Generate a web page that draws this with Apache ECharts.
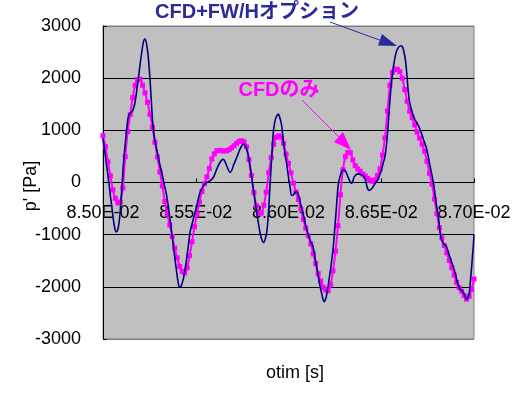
<!DOCTYPE html>
<html><head><meta charset="utf-8">
<script src="https://cdn.jsdelivr.net/npm/echarts@6/dist/echarts.min.js"></script>
<style>html,body{margin:0;padding:0;background:#fff}#c{width:529px;height:404px}</style>
</head><body><div id="c"></div>
<script>
// ---- data ----
const xMin = 0.0850, xMax = 0.0870, xStep = 0.0005;
const yMin = -3000, yMax = 3000, yStep = 1000;
const seriesNames = ["CFD+FW/Hオプション", "CFDのみ"];
const xAxisTitle = "otim [s]";
const yAxisTitle = "p' [Pa]";

// CFDのみ : sampled at a constant time step
const cfdStart = 0.0850;
const cfdStep = 0.002 / 150;
const cfdValues = [
  900, 685, 396, 126, -143, -303, -392, -375, -102, 496,
  975, 1300, 1627, 1862, 1972, 1981, 1865, 1718, 1535, 1311,
  1057, 774, 490, 205, -65, -363, -601, -814, -1035, -1258,
  -1444, -1610, -1705, -1733, -1636, -1403, -1135, -846, -612, -371,
  -172, -22, 107, 271, 452, 549, 608, 616, 607, 607,
  607, 630, 665, 705, 751, 787, 800, 780, 685, 440,
  136, -193, -446, -585, -585, -435, -185, 190, 476, 730,
  864, 893, 869, 750, 545, 368, 183, -11, -180, -327,
  -510, -706, -875, -1021, -1175, -1369, -1555, -1748, -1890, -2006,
  -2056, -2077, -1961, -1693, -1314, -830, -237, 246, 494, 576,
  570, 433, 322, 260, 215, 161, 126, 77, 44, 22,
  51, 136, 261, 525, 854, 1370, 1862, 2114, 2174, 2169,
  2125, 2001, 1781, 1557, 1366, 1240, 1105, 968, 850, 733,
  600, 407, 175, -29, -318, -598, -866, -1063, -1208, -1347,
  -1496, -1631, -1776, -1916, -2014, -2082, -2167, -2235, -2184, -2052,
  -1850
];

// CFD+FW/Hオプション
const fwhTimes = [
  0.0850000, 0.0850092, 0.0850199, 0.0850291, 0.0850377, 0.0850469, 0.0850555, 0.0850631, 0.0850701, 0.0850782,
  0.0850863, 0.0850933, 0.0851008, 0.0851094, 0.0851186, 0.0851277, 0.0851348, 0.0851418, 0.0851509, 0.0851601,
  0.0851725, 0.0851817, 0.0851903, 0.0851995, 0.0852086, 0.0852178, 0.0852264, 0.0852356, 0.0852442, 0.0852534,
  0.0852615, 0.0852679, 0.0852776, 0.0852895, 0.0853019, 0.0853164, 0.0853299, 0.0853434, 0.0853526, 0.0853612,
  0.0853704, 0.0853790, 0.0853881, 0.0853973, 0.0854043, 0.0854113, 0.0854205, 0.0854329, 0.0854420, 0.0854512,
  0.0854604, 0.0854690, 0.0854782, 0.0854868, 0.0854960, 0.0855051, 0.0855143, 0.0855229, 0.0855407, 0.0855590,
  0.0855768, 0.0855946, 0.0856037, 0.0856129, 0.0856221, 0.0856307, 0.0856399, 0.0856485, 0.0856577, 0.0856668,
  0.0856760, 0.0856846, 0.0856938, 0.0857024, 0.0857116, 0.0857208, 0.0857299, 0.0857385, 0.0857477, 0.0857563,
  0.0857655, 0.0857747, 0.0857838, 0.0857925, 0.0858016, 0.0858102, 0.0858194, 0.0858286, 0.0858377, 0.0858464,
  0.0858555, 0.0858641, 0.0858733, 0.0858825, 0.0858916, 0.0859002, 0.0859094, 0.0859180, 0.0859256, 0.0859326,
  0.0859450, 0.0859542, 0.0859634, 0.0859720, 0.0859811, 0.0859903, 0.0860000, 0.0860081, 0.0860173, 0.0860270,
  0.0860350, 0.0860458, 0.0860566, 0.0860674, 0.0860782, 0.0860943, 0.0861159, 0.0861321, 0.0861482, 0.0861606,
  0.0861698, 0.0861790, 0.0861860, 0.0861930, 0.0861995, 0.0862059, 0.0862145, 0.0862237, 0.0862329, 0.0862415,
  0.0862480, 0.0862545, 0.0862599, 0.0862653, 0.0862712, 0.0862776, 0.0862857, 0.0862938, 0.0863019, 0.0863100,
  0.0863181, 0.0863262, 0.0863332, 0.0863397, 0.0863461, 0.0863531, 0.0863612, 0.0863693, 0.0863801, 0.0863909,
  0.0863989, 0.0864070, 0.0864151, 0.0864232, 0.0864297, 0.0864367, 0.0864448, 0.0864529, 0.0864610, 0.0864691,
  0.0864771, 0.0864852, 0.0864933, 0.0865025, 0.0865111, 0.0865203, 0.0865294, 0.0865381, 0.0865472, 0.0865564,
  0.0865650, 0.0865742, 0.0865834, 0.0865931, 0.0866011, 0.0866081, 0.0866157, 0.0866227, 0.0866297, 0.0866372,
  0.0866459, 0.0866551, 0.0866642, 0.0866729, 0.0866820, 0.0866912, 0.0866998, 0.0867090, 0.0867182, 0.0867268,
  0.0867360, 0.0867451, 0.0867537, 0.0867629, 0.0867721, 0.0867807, 0.0867882, 0.0867952, 0.0868017, 0.0868076,
  0.0868125, 0.0868168, 0.0868238, 0.0868314, 0.0868400, 0.0868491, 0.0868556, 0.0868616, 0.0868707, 0.0868799,
  0.0868885, 0.0868977, 0.0869042, 0.0869101, 0.0869176, 0.0869246, 0.0869338, 0.0869424, 0.0869516, 0.0869607,
  0.0869677, 0.0869747, 0.0869812, 0.0869877, 0.0869920, 0.0869963, 0.0870000
];
const fwhValues = [
  850, 600, 320, 70, -192, -450, -703, -870, -946, -920,
  -780, -520, -150, 320, 700, 1022, 1230, 1310, 1340, 1374,
  1534, 1760, 1981, 2250, 2492, 2690, 2748, 2640, 2400, 1981,
  1500, 1150, 850, 639, 420, 192, -30, -256, -470, -703,
  -960, -1214, -1470, -1725, -1900, -2000, -1990, -1853, -1680, -1450,
  -1200, -962, -820, -703, -575, -447, -310, -192, -64, 0,
  32, 96, 170, 256, 330, 383, 430, 447, 400, 320,
  240, 192, 230, 320, 400, 479, 560, 639, 700, 735,
  710, 639, 500, 320, 100, -128, -350, -575, -780, -958,
  -1090, -1150, -1100, -958, -600, -64, 480, 958, 1150, 1246,
  1310, 1230, 1086, 800, 550, 350, 100, -80, -250, -240,
  -190, -180, -280, -440, -590, -850, -1100, -1230, -1550, -1805,
  -1980, -2125, -2240, -2285, -2240, -2150, -1960, -1737, -1500, -1230,
  -950, -655, -400, -144, 20, 110, 200, 240, 235, 200,
  130, 60, 10, -20, 20, 100, 140, 160, 160, 150,
  140, 110, 40, -80, -140, -150, -130, -100, -50, -10,
  30, 80, 160, 255, 380, 500, 767, 1150, 1600, 1950,
  2200, 2400, 2524, 2590, 2615, 2620, 2590, 2500, 2360, 2109,
  1725, 1500, 1374, 1280, 1200, 1150, 1090, 1022, 930, 831,
  740, 639, 490, 320, 160, 0, -180, -383, -520, -639,
  -800, -958, -1080, -1150, -1190, -1214, -1270, -1342, -1440, -1534,
  -1620, -1725, -1820, -1917, -1990, -2045, -2070, -2109, -2180, -2237,
  -2200, -2109, -1870, -1597, -1400, -1214, -1000
];

// ---- build ----
const cfdData = cfdValues.map((v, i) => [cfdStart + i * cfdStep, v]);
const fwhData = fwhTimes.map((t, i) => [t, fwhValues[i]]);

function fmtE(v) {
  if (v === 0) return '0.00E+00';
  let e = Math.floor(Math.log10(Math.abs(v)) + 1e-9);
  let ms = (v / Math.pow(10, e)).toFixed(2);
  if (Math.abs(parseFloat(ms)) >= 10) { e += 1; ms = (v / Math.pow(10, e)).toFixed(2); }
  const sign = e < 0 ? '-' : '+';
  const ae = Math.abs(e);
  return ms + 'E' + sign + (ae < 10 ? '0' + ae : '' + ae);
}

const NUM_FONT = '"Liberation Sans", Arial, sans-serif';
const JP_FONT = '"Liberation Sans", "Noto Sans CJK JP", sans-serif';
const BLUE_TXT = '#2a2a9a';
const MAG = '#ff00ff';

const GRID = {left: 103, top: 26, width: 371, height: 313};
// x axis crosses the y axis at value 0 (middle of the symmetric y range)
const zeroOffset = -GRID.height * (0 - yMin) / (yMax - yMin);

const chart = echarts.init(document.getElementById('c'), null, {renderer: 'canvas'});
chart.setOption({
  animation: false,
  backgroundColor: '#ffffff',
  grid: {
    left: GRID.left, top: GRID.top, width: GRID.width, height: GRID.height,
    show: true, backgroundColor: '#c0c0c0', borderColor: '#808080', borderWidth: 1
  },
  xAxis: {
    type: 'value', min: xMin, max: xMax, interval: xStep,
    position: 'bottom', offset: zeroOffset,
    axisLine: {show: true, onZero: false, lineStyle: {color: '#000', width: 1}},
    axisTick: {show: true, inside: true, length: 4, lineStyle: {color: '#000'}},
    axisLabel: {formatter: fmtE, color: '#000', fontSize: 18, fontFamily: NUM_FONT, margin: 22, showMinLabel: true, showMaxLabel: true},
    splitLine: {show: false}
  },
  yAxis: {
    type: 'value', min: yMin, max: yMax, interval: yStep,
    axisLine: {show: true, onZero: false, lineStyle: {color: '#000', width: 1}},
    axisTick: {show: true, inside: true, length: 4, lineStyle: {color: '#000'}},
    axisLabel: {color: '#000', fontSize: 18, fontFamily: NUM_FONT, margin: 22, formatter: v => String(v)},
    splitLine: {show: true, lineStyle: {color: ['#808080', '#000', '#000', '#000', '#000', '#000', '#808080'], width: 1}}
  },
  series: [
    {
      name: seriesNames[1], type: 'line', data: cfdData, smooth: 0.3,
      symbol: 'rect', symbolSize: 5, showAllSymbol: true,
      lineStyle: {color: MAG, width: 2}, itemStyle: {color: MAG},
      z: 3
    },
    {
      name: seriesNames[0], type: 'line', data: fwhData, smooth: 0.3,
      showSymbol: false, symbol: 'none',
      lineStyle: {color: '#000080', width: 1.6},
      z: 4
    }
  ],
  graphic: [
    {type: 'text', z: 100, style: {text: seriesNames[0], x: 257, y: 12, fill: BLUE_TXT, font: 'bold 20px ' + JP_FONT, align: 'center', verticalAlign: 'middle', textAlign: 'center', textVerticalAlign: 'middle'}},
    {type: 'line', z: 100, shape: {x1: 330, y1: 22, x2: 385, y2: 42}, style: {stroke: BLUE_TXT, lineWidth: 1}},
    {type: 'polygon', z: 100, shape: {points: [[397, 46], [378, 45.5], [382, 34]]}, style: {fill: BLUE_TXT}},
    {type: 'text', z: 100, style: {text: seriesNames[1], x: 279, y: 90, fill: MAG, font: 'bold 20px ' + JP_FONT, align: 'center', verticalAlign: 'middle', textAlign: 'center', textVerticalAlign: 'middle'}},
    {type: 'line', z: 100, shape: {x1: 302, y1: 100, x2: 342, y2: 140}, style: {stroke: MAG, lineWidth: 1}},
    {type: 'polygon', z: 100, shape: {points: [[351, 150], [334, 142], [343, 132]]}, style: {fill: MAG}},
    {type: 'text', z: 100, style: {text: xAxisTitle, x: 295, y: 373, fill: '#000', font: '18px ' + NUM_FONT, align: 'center', verticalAlign: 'middle', textAlign: 'center', textVerticalAlign: 'middle'}},
    {type: 'text', z: 100, rotation: Math.PI / 2, x: 31, y: 186, style: {text: yAxisTitle, x: 0, y: 0, fill: '#000', font: '18px ' + NUM_FONT, align: 'center', verticalAlign: 'middle', textAlign: 'center', textVerticalAlign: 'middle'}}
  ]
});
</script>
</body></html>
